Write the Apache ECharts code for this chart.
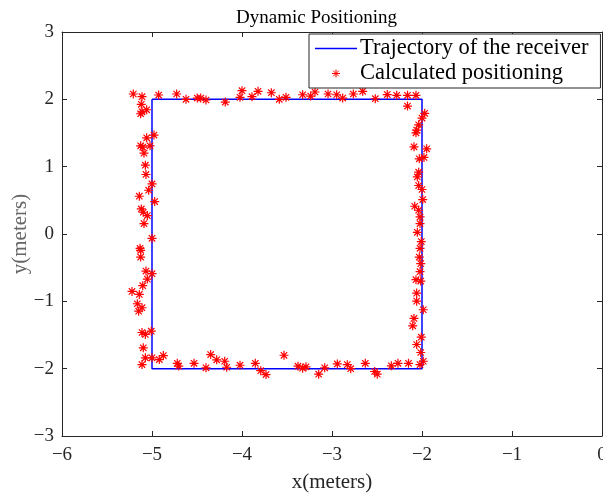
<!DOCTYPE html>
<html><head><meta charset="utf-8">
<script src="https://cdn.jsdelivr.net/npm/echarts@6/dist/echarts.min.js"></script>
<style>html,body{margin:0;padding:0;background:#fff}#c{width:603px;height:493px}</style>
</head><body><div id="c"></div>
<script>
var titleText = 'Dynamic Positioning';
var xName = 'x(meters)';
var yName = 'y(meters)';
var lineName = 'Trajectory of the receiver';
var scatterName = 'Calculated positioning';
var xTicks = [-6, -5, -4, -3, -2, -1, 0];
var yTicks = [-3, -2, -1, 0, 1, 2, 3];
var trajX = [-5, -2, -2, -5, -5];
var trajY = [2, 2, -2, -2, 2];
var posX = [-5.208,-5.111,-4.926,-4.726,-4.622,-4.497,-4.459,-4.400,-4.186,-4.022,-4.000,-3.889,-3.822,-3.674,-3.586,-3.511,-3.326,-3.237,-3.189,-3.044,-2.948,-2.881,-2.763,-2.659,-2.519,-2.386,-2.281,-2.161,-2.067,-2.161,
 -1.970,-2.000,-2.037,-2.059,-2.067,-2.089,-1.948,-2.030,-1.978,-2.037,-2.052,-2.037,-2.000,-1.992,-2.081,-2.037,-2.022,-2.022,-2.052,-2.008,-2.022,-2.030,-2.014,-2.022,-2.067,-2.014,-2.059,-2.059,-1.986,-2.089,-2.103,-2.008,-2.059,-2.014,-1.986,-2.022,-2.150,-2.267,-2.341,
 -2.497,-2.526,-2.630,-2.792,-2.830,-2.941,-3.081,-3.148,-3.289,-3.326,-3.378,-3.533,-3.733,-3.792,-3.852,-4.022,-4.170,-4.192,-4.281,-4.348,-4.400,-4.533,-4.703,-4.719,-4.874,-4.919,-5.000,-5.074,-5.111,
 -5.097,-5.008,-5.074,-5.111,-5.148,-5.111,-5.163,-5.141,-5.222,-5.103,-5.052,-5.000,-5.067,-5.126,-5.126,-5.133,-5.000,-5.089,-5.052,-5.097,-5.119,-4.970,-5.141,-5.037,-5.000,-5.067,-5.074,-5.089,-5.126,-5.103,-5.022,-5.059,-4.978,-5.126,-5.111,-5.059,-5.119];
var posY = [2.079,2.039,2.064,2.079,2.000,2.019,2.019,1.990,1.960,2.030,2.128,2.039,2.119,2.098,2.000,2.030,2.068,2.049,2.109,2.079,2.068,2.019,2.079,2.119,2.009,2.071,2.060,2.060,2.060,1.900,
 1.792,1.722,1.622,1.543,1.503,1.295,1.265,1.116,1.137,0.918,0.848,0.720,0.661,0.512,0.412,0.353,0.253,0.155,0.025,-0.113,-0.213,-0.342,-0.440,-0.560,-0.679,-0.699,-0.878,-0.997,-1.125,-1.254,-1.363,-1.533,-1.641,-1.760,-1.890,-1.939,-1.920,-1.920,-1.958,
 -2.082,-2.042,-1.920,-2.000,-1.940,-1.930,-1.988,-2.082,-1.973,-1.993,-1.963,-1.801,-2.088,-2.030,-1.920,-1.949,-1.979,-1.890,-1.869,-1.790,-1.988,-1.920,-1.961,-1.920,-1.805,-1.865,-1.839,-1.839,-1.939,
 -1.690,-1.443,-1.492,-1.463,-1.146,-1.095,-1.036,-0.897,-0.853,-0.768,-0.670,-0.589,-0.551,-0.342,-0.243,-0.213,-0.064,0.155,0.274,0.323,0.372,0.482,0.561,0.650,0.744,0.884,1.022,1.201,1.310,1.290,1.310,1.429,1.469,1.786,1.815,1.845,1.926];

var FONT = 'Liberation Serif';
var AX = '#262626';
var star = 'path://M5,0L5,10M0,5L10,5M1.46,1.46L8.54,8.54M1.46,8.54L8.54,1.46';
function fmt(v){ return String(v).replace('-', '\u2212'); }

var chart = echarts.init(document.getElementById('c'), null, {renderer:'canvas'});
var axisCommon = {
  axisLine:{show:true, onZero:false, lineStyle:{color:AX, width:1}},
  axisTick:{show:true, inside:true, length:5, lineStyle:{color:AX}},
  splitLine:{show:false}
};
chart.setOption({
  animation:false,
  backgroundColor:'#fff',
  title:{text:titleText, left:236, top:9, padding:0,
    textStyle:{fontFamily:FONT, fontSize:19, fontWeight:'normal', color:'#000'}},
  legend:{orient:'vertical', left:309, top:34, padding:[3,12,3,6],
    backgroundColor:'#fff', borderColor:AX, borderWidth:1, borderRadius:0,
    itemWidth:42, itemHeight:8, itemGap:2,
    textStyle:{fontFamily:FONT, fontSize:22.5, color:'#000', padding:[0,0,0,-2]},
    data:[{name:lineName, icon:'path://M0,0H42V1.4H0Z', itemStyle:{color:'#0000ff', borderWidth:0}},
          {name:scatterName, icon:star, itemStyle:{color:'#ff0000', borderColor:'#ff0000', borderWidth:1}}]},
  grid:{left:62, top:32, width:540, height:404, containLabel:false, outerBoundsMode:'none'},
  xAxis:[Object.assign({type:'value', min:xTicks[0], max:xTicks[xTicks.length-1], interval:1, position:'bottom',
      name:xName, nameLocation:'middle', nameGap:36, nameMoveOverlap:false,
      nameTextStyle:{fontFamily:FONT, fontSize:21, color:AX},
      axisLabel:{fontFamily:FONT, fontSize:19, color:AX, margin:10, formatter:fmt}}, axisCommon),
    Object.assign({type:'value', min:xTicks[0], max:xTicks[xTicks.length-1], interval:1, position:'top',
      axisLabel:{show:false}}, axisCommon)],
  yAxis:[Object.assign({type:'value', min:yTicks[0], max:yTicks[yTicks.length-1], interval:1, position:'left',
      name:yName, nameLocation:'middle', nameGap:31, nameMoveOverlap:false,
      nameTextStyle:{fontFamily:FONT, fontSize:21, color:'#666'},
      axisLabel:{fontFamily:FONT, fontSize:19, color:AX, margin:8, formatter:fmt}}, axisCommon),
    Object.assign({type:'value', min:yTicks[0], max:yTicks[yTicks.length-1], interval:1, position:'right',
      axisLabel:{show:false}}, axisCommon)],
  series:[
    {name:lineName, type:'line', data:trajX.map(function(x,i){return [x,trajY[i]];}),
      showSymbol:false, symbol:'none', lineStyle:{color:'#0000ff', width:1.5}, itemStyle:{color:'#0000ff'}, z:2},
    {name:scatterName, type:'scatter', data:posX.map(function(x,i){return [x,posY[i]];}),
      symbol:star, symbolSize:9, itemStyle:{color:'#ff0000', borderColor:'#ff0000', borderWidth:1.2, opacity:1}, z:3}
  ]
});
</script></body></html>
